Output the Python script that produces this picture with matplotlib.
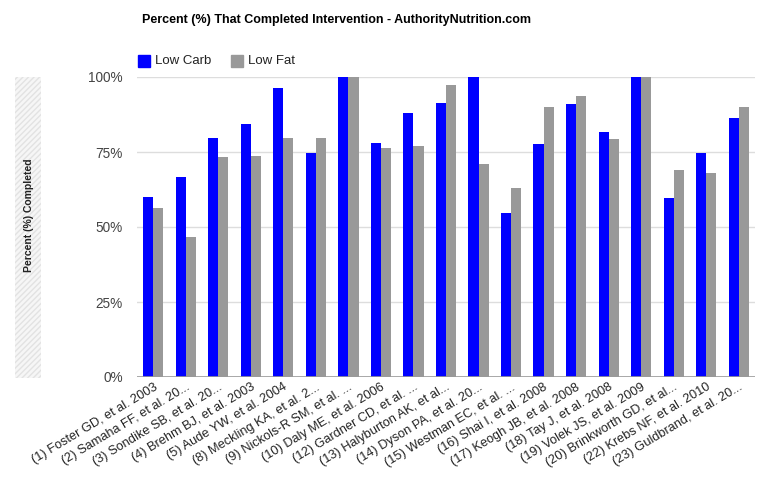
import numpy as np
import matplotlib
matplotlib.use("Agg")
import matplotlib.pyplot as plt
from matplotlib.patches import Rectangle

plt.rcParams['font.family'] = ['Liberation Sans', 'DejaVu Sans']

studies = [
    "(1) Foster GD, et al. 2003",
    "(2) Samaha FF, et al. 20...",
    "(3) Sondike SB, et al. 20...",
    "(4) Brehm BJ, et al. 2003",
    "(5) Aude YW, et al. 2004",
    "(8) Meckling KA, et al. 2...",
    "(9) Nickols-R SM, et al. ...",
    "(10) Daly ME, et al. 2006",
    "(12) Gardner CD, et al. ...",
    "(13) Halyburton AK, et al...",
    "(14) Dyson PA, et al. 20...",
    "(15) Westman EC, et al. ...",
    "(16) Shai I, et al. 2008",
    "(17) Keogh JB, et al. 2008",
    "(18) Tay J, et al. 2008",
    "(19) Volek JS, et al. 2009",
    "(20) Brinkworth GD, et al...",
    "(22) Krebs NF, et al. 2010",
    "(23) Guldbrand, et al. 20...",
]
low_carb = [60.1, 66.8, 79.7, 84.3, 96.3, 74.7, 100, 78.1, 88.0, 91.2,
            100, 54.8, 77.6, 91.0, 81.6, 100, 59.6, 74.7, 86.3]
low_fat = [56.4, 46.8, 73.2, 73.8, 79.7, 79.7, 100, 76.2, 77.0, 97.3,
           71.0, 62.9, 90.1, 93.7, 79.3, 100, 69.0, 67.9, 89.9]
yticks = [0, 25, 50, 75, 100]

fig = plt.figure(figsize=(7.71, 4.87), dpi=100)
ax = fig.add_axes([137 / 771, 1 - 377 / 487, 618 / 771, 300 / 487])

x = np.arange(len(studies))
w = 0.31
ax.bar(x - w / 2, low_carb, w, color='#0000ff', label='Low Carb', zorder=3)
ax.bar(x + w / 2, low_fat, w, color='#999999', label='Low Fat', zorder=3)

ax.set_xlim(-0.5, len(studies) - 0.5)
ax.set_ylim(0, 100)
ax.set_yticks(yticks)
ax.set_yticklabels([f"{t}%" for t in yticks], fontsize=9.8, color='#444444')
ax.tick_params(axis='y', length=0, pad=10)
ax.tick_params(axis='x', length=0, pad=3)
ax.set_xticks(x)
ax.set_xticklabels(studies, rotation=31, ha='right', rotation_mode='anchor',
                   fontsize=9.2, color='#222222')
for t in yticks[1:]:
    ax.axhline(t, color='#dddddd', lw=1, zorder=1)
ax.axhline(0, color='#999999', lw=1.2, zorder=4)
for s in ax.spines.values():
    s.set_visible(False)

fig.text(142 / 771, 1 - 20 / 487, "Percent (%) That Completed Intervention - AuthorityNutrition.com",
         fontsize=9, fontweight='bold', va='center', ha='left')

# legend
fig.patches.append(Rectangle((138 / 771, 1 - 67 / 487), 12 / 771, 12 / 487,
                             transform=fig.transFigure, color='#0000ff'))
fig.text(155 / 771, 1 - 61 / 487, "Low Carb", fontsize=9.5, color='#222222', va='center')
fig.patches.append(Rectangle((231 / 771, 1 - 67 / 487), 12 / 771, 12 / 487,
                             transform=fig.transFigure, color='#999999'))
fig.text(248 / 771, 1 - 61 / 487, "Low Fat", fontsize=9.5, color='#222222', va='center')

# y-axis title with hatched background
fig.patches.append(Rectangle((15 / 771, 1 - 378 / 487), 26 / 771, 301 / 487,
                             transform=fig.transFigure, facecolor='#f6f6f6',
                             edgecolor='#e2e2e2', hatch='//////', lw=0))
fig.text(29 / 771, 1 - 215 / 487, "Percent (%) Completed", rotation=90,
         fontsize=7.5, fontweight='bold', ha='center', va='center', color='#222222')

fig.savefig("out.png", dpi=100)
